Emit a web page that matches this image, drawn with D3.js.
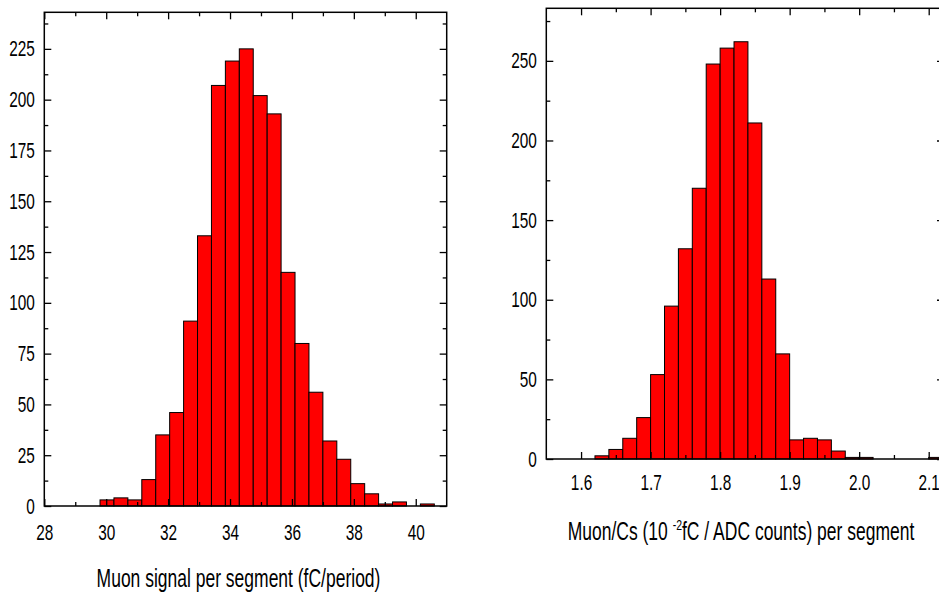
<!DOCTYPE html>
<html>
<head>
<meta charset="utf-8">
<script src="https://cdn.jsdelivr.net/npm/d3@7"></script>
<style>
  body { margin: 0; background: #fff; }
  svg { display: block; }
  text { font-family: "Liberation Sans", Arial, Helvetica, sans-serif; fill: #000; }
</style>
</head>
<body>
<svg id="chart" width="939" height="594"></svg>
<script>
// ---------- Left panel: muon signal per segment (fC/period) ----------
const signalBinStarts = [29.8, 30.25, 30.7, 31.15, 31.6, 32.05, 32.5, 32.95, 33.4, 33.85, 34.3, 34.75,
                         35.2, 35.65, 36.1, 36.55, 37.0, 37.45, 37.9, 38.35, 38.8, 39.25, 39.7, 40.15];
const signalBinWidth = 0.45;
const signalCounts = [3, 4, 3, 13, 35, 46, 91, 133, 207, 219, 225, 202,
                      193, 115, 80, 56, 32, 23, 11, 6, 1, 2, 0, 1];
const signalXMajorTicks = [28, 30, 32, 34, 36, 38, 40];
const signalXMinorTicks = [29, 31, 33, 35, 37, 39];
const signalYMajorTicks = [0, 25, 50, 75, 100, 125, 150, 175, 200, 225];
const signalYMinorTicks = [12.5, 37.5, 62.5, 87.5, 112.5, 137.5, 162.5, 187.5, 212.5, 237.5];
const signalXLabel = "Muon signal per segment (fC/period)";

// ---------- Right panel: Muon/Cs ratio per segment ----------
const ratioBinStarts = [1.62, 1.64, 1.66, 1.68, 1.70, 1.72, 1.74, 1.76, 1.78, 1.80, 1.82, 1.84, 1.86,
                        1.88, 1.90, 1.92, 1.94, 1.96, 1.98, 2.00, 2.02, 2.04, 2.06, 2.08, 2.10];
const ratioBinWidth = 0.02;
const ratioCounts = [2, 6, 13, 26, 53, 96, 132, 170, 248, 258, 262, 211, 113,
                     66, 12, 13, 12, 5, 1, 1, 0, 0, 0, 0, 1];
const ratioXMajorTicks = [1.6, 1.7, 1.8, 1.9, 2.0, 2.1];
const ratioXMinorTicks = [1.65, 1.75, 1.85, 1.95, 2.05];
const ratioYMajorTicks = [0, 50, 100, 150, 200, 250];
const ratioYMinorTicks = [25, 75, 125, 175, 225, 275];
const ratioXLabelParts = ["Muon/Cs (10 ", "-2", "fC / ADC counts) per segment"];

const svg = d3.select("#chart");
const SX = 0.7;          // horizontal condensation of the Helvetica-Narrow-like font
const TICK_FONT = 22;
const LABEL_FONT = 25;

function drawHist(o) {
  const x = d3.scaleLinear().domain(o.xDomain).range(o.xRange);
  const y = d3.scaleLinear().domain(o.yDomain).range(o.yRange);
  const [xl, xr] = o.xRange;
  const [yb, yt] = o.yRange;
  const g = svg.append("g");

  const bins = o.starts.map((s, i) => ({ s, c: o.counts[i] })).filter(d => d.c > 0);
  g.selectAll("rect.bar").data(bins).join("rect")
    .attr("class", "bar")
    .attr("x", d => x(d.s))
    .attr("width", d => x(d.s + o.width) - x(d.s))
    .attr("y", d => y(d.c))
    .attr("height", d => y(0) - y(d.c))
    .attr("fill", "#ff0000")
    .attr("stroke", "#000")
    .attr("stroke-width", 1);

  function axis(gen, transform, values, size, fmt, pad) {
    const a = g.append("g").attr("transform", transform)
      .call(gen.tickValues(values).tickSize(-size).tickPadding(pad || 3).tickFormat(fmt || (() => "")));
    a.select(".domain").remove();
    a.attr("font-size", null).attr("font-family", null);
    a.selectAll("line").attr("stroke", "#000").attr("stroke-width", 1.3);
    return a;
  }

  // bottom
  const bot = axis(d3.axisBottom(x), `translate(0,${yb})`, o.xMajor, 7, o.xFmt, o.xPad);
  bot.selectAll("text").attr("font-size", TICK_FONT).attr("transform", `scale(${SX},1)`);
  axis(d3.axisBottom(x), `translate(0,${yb})`, o.xMinor, 4);
  // top
  axis(d3.axisTop(x), `translate(0,${yt})`, o.xMajor, 7);
  axis(d3.axisTop(x), `translate(0,${yt})`, o.xMinor, 4);
  // left
  const left = axis(d3.axisLeft(y), `translate(${xl},0)`, o.yMajor, 7, d3.format("d"), 9);
  left.selectAll("text").attr("font-size", TICK_FONT)
    .attr("x", -9.5 / SX).attr("transform", `scale(${SX},1)`);
  axis(d3.axisLeft(y), `translate(${xl},0)`, o.yMinor, 4);
  // right
  axis(d3.axisRight(y), `translate(${xr},0)`, o.yMajor, 7);
  axis(d3.axisRight(y), `translate(${xr},0)`, o.yMinor, 4);

  // frame
  g.append("rect").attr("x", xl).attr("y", yt).attr("width", xr - xl).attr("height", yb - yt)
    .attr("fill", "none").attr("stroke", "#000").attr("stroke-width", 1.5);
}

drawHist({
  starts: signalBinStarts, width: signalBinWidth, counts: signalCounts,
  xDomain: [28, 41], xRange: [44.3, 446.7],
  yDomain: [0, 243], yRange: [506, 12.3],
  xMajor: signalXMajorTicks, xMinor: signalXMinorTicks,
  yMajor: signalYMajorTicks, yMinor: signalYMinorTicks,
  xFmt: d3.format("d"), xPad: 18.4
});

drawHist({
  starts: ratioBinStarts, width: ratioBinWidth, counts: ratioCounts,
  xDomain: [1.55, 2.122], xRange: [546.3, 944],
  yDomain: [0, 283], yRange: [459, 8.3],
  xMajor: ratioXMajorTicks, xMinor: ratioXMinorTicks,
  yMajor: ratioYMajorTicks, yMinor: ratioYMinorTicks,
  xFmt: d3.format(".1f"), xPad: 15.4
});

// axis titles
svg.append("text")
  .attr("transform", `translate(238.5,587) scale(${SX},1)`)
  .attr("text-anchor", "middle").attr("font-size", LABEL_FONT)
  .text(signalXLabel);

const rt = svg.append("text")
  .attr("transform", `translate(741,540) scale(${SX},1)`)
  .attr("text-anchor", "middle").attr("font-size", LABEL_FONT);
rt.append("tspan").text(ratioXLabelParts[0]);
rt.append("tspan").attr("font-size", 15).attr("dy", -10).text(ratioXLabelParts[1]);
rt.append("tspan").attr("dy", 10).text(ratioXLabelParts[2]);
</script>
</body>
</html>
